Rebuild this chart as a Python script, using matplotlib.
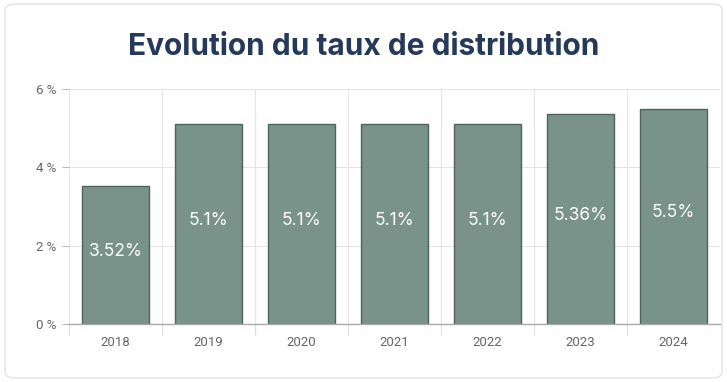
import matplotlib
matplotlib.use("Agg")
from matplotlib import pyplot as plt
from matplotlib.patches import FancyBboxPatch
import numpy as np

years = ["2018", "2019", "2020", "2021", "2022", "2023", "2024"]
rates = [3.52, 5.1, 5.1, 5.1, 5.1, 5.36, 5.5]
rate_labels = ["3.52%", "5.1%", "5.1%", "5.1%", "5.1%", "5.36%", "5.5%"]
y_ticks = [0, 2, 4, 6]


def data_plot():
    fig = plt.figure(figsize=(7.27, 3.82), dpi=100)
    fig.patch.set_facecolor("white")

    # card border
    card = FancyBboxPatch((5 / 727, 4 / 382), 717 / 727, 374 / 382,
                          boxstyle="round,pad=0,rounding_size=0.015",
                          transform=fig.transFigure, facecolor="white",
                          edgecolor="#e3e3e3", linewidth=1.0, zorder=-10)
    fig.patches.append(card)

    fig.text(0.5, 0.877, "Evolution du taux de distribution", ha="center", va="center",
             fontsize=21.5, fontweight="bold", color="#25395a", family=["Inter", "DejaVu Sans"])

    ax = fig.add_axes([69 / 727, 58 / 382, 651 / 727, 235 / 382])
    ax.set_facecolor("none")
    x = np.arange(len(years))
    bars = ax.bar(x, rates, width=0.71, color="#79928a", edgecolor="#4d645d",
                  linewidth=1.0, zorder=3)

    for b, lab in zip(bars, rate_labels):
        ax.text(b.get_x() + b.get_width() / 2, b.get_height() / 2 + 0.1, lab,
                ha="center", va="center", color="white", fontsize=12.5,
                family=["Inter", "DejaVu Sans"], zorder=4)

    ax.set_xlim(-0.5, len(years) - 0.5)
    ax.set_ylim(0, 6)
    ax.set_yticks(y_ticks)
    ax.set_yticklabels([f"{v} %" for v in y_ticks])
    ax.set_xticks(x)
    ax.set_xticklabels(years)
    ax.set_xticks(np.arange(-0.5, len(years) - 0.5, 1.0), minor=True)

    ax.tick_params(axis="x", which="major", length=0, pad=9, labelsize=9.5, labelcolor="#666666")
    ax.tick_params(axis="x", which="minor", length=8, color="#dddddd", width=0.8)
    ax.tick_params(axis="y", length=5, color="#bbbbbb", width=0.8, pad=4,
                   labelsize=9.5, labelcolor="#666666")
    for t in ax.get_xticklabels() + ax.get_yticklabels():
        t.set_family(["Roboto", "DejaVu Sans"])

    ax.grid(axis="y", color="#e5e5e5", linewidth=0.8, zorder=0)
    ax.grid(axis="x", which="minor", color="#e5e5e5", linewidth=0.8, zorder=0)
    ax.grid(axis="x", which="major", visible=False)

    for s in ["top", "right", "left"]:
        ax.spines[s].set_visible(False)
    ax.spines["bottom"].set_color("#aaaaaa")
    ax.spines["bottom"].set_linewidth(1.0)
    ax.spines["bottom"].set_zorder(5)

    plt.savefig("out.png", dpi=100)
    plt.close()


if __name__ == "__main__":
    data_plot()
